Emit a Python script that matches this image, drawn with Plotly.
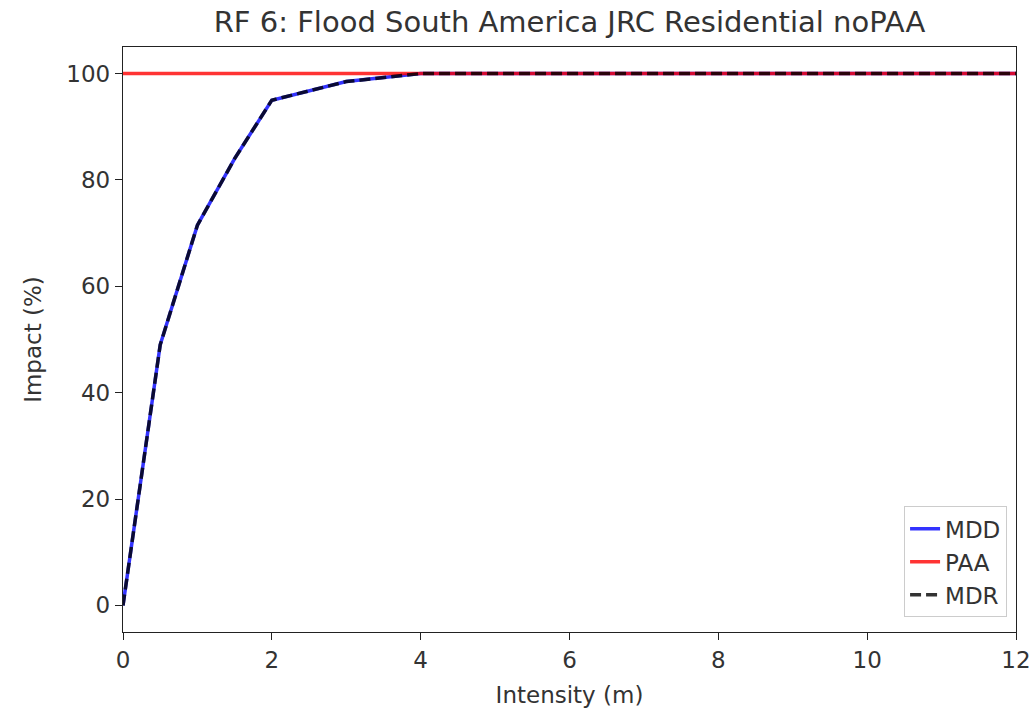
import plotly.graph_objects as go

intensity = [0, 0.5, 1, 1.5, 2, 3, 4, 5, 6, 12]
mdd = [0, 49, 71.5, 84, 95, 98.5, 100, 100, 100, 100]
paa = [100, 100, 100, 100, 100, 100, 100, 100, 100, 100]
mdr = [m * p / 100 for m, p in zip(mdd, paa)]

font = "DejaVu Sans"
tick_size = 23
fig = go.Figure()
fig.add_trace(go.Scatter(x=intensity, y=mdd, mode="lines", name="MDD",
                         line=dict(color="rgba(0,0,255,0.8)", width=3.5)))
fig.add_trace(go.Scatter(x=intensity, y=paa, mode="lines", name="PAA",
                         line=dict(color="rgba(255,0,0,0.8)", width=3.5)))
fig.add_trace(go.Scatter(x=intensity, y=mdr, mode="lines", name="MDR",
                         line=dict(color="rgba(0,0,0,0.8)", width=3.5, dash="11px,5px")))

axis_common = dict(showgrid=False, zeroline=False, showline=True, linecolor="#222",
                   linewidth=1.3, mirror=True, ticks="outside", ticklen=7, tickwidth=1.3,
                   tickcolor="#222", tickfont=dict(family=font, size=tick_size, color="#333"))
fig.update_layout(
    width=1033, height=719,
    margin=dict(l=123, r=17, t=47, b=87),
    paper_bgcolor="white", plot_bgcolor="white",
    title=dict(text="RF 6: Flood South America JRC Residential noPAA",
               font=dict(family=font, size=29, color="#333"),
               xref="paper", x=0.5, xanchor="center", y=0.969, yanchor="middle"),
    xaxis=dict(range=[0, 12], tickvals=[0, 2, 4, 6, 8, 10, 12], automargin=False,
               title=dict(text="Intensity (m)", font=dict(family=font, size=tick_size, color="#333")),
               **axis_common),
    yaxis=dict(range=[-5, 105], tickvals=[0, 20, 40, 60, 80, 100], automargin=True,
               title=dict(text="Impact (%)", font=dict(family=font, size=tick_size, color="#333"),
                          standoff=18),
               **axis_common),
    legend=dict(x=0.99, y=0.025, xanchor="right", yanchor="bottom",
                bordercolor="#ccc", borderwidth=1, bgcolor="rgba(255,255,255,0.8)",
                font=dict(family=font, size=tick_size, color="#333")),
    showlegend=True,
)
fig.write_html("out.html")
